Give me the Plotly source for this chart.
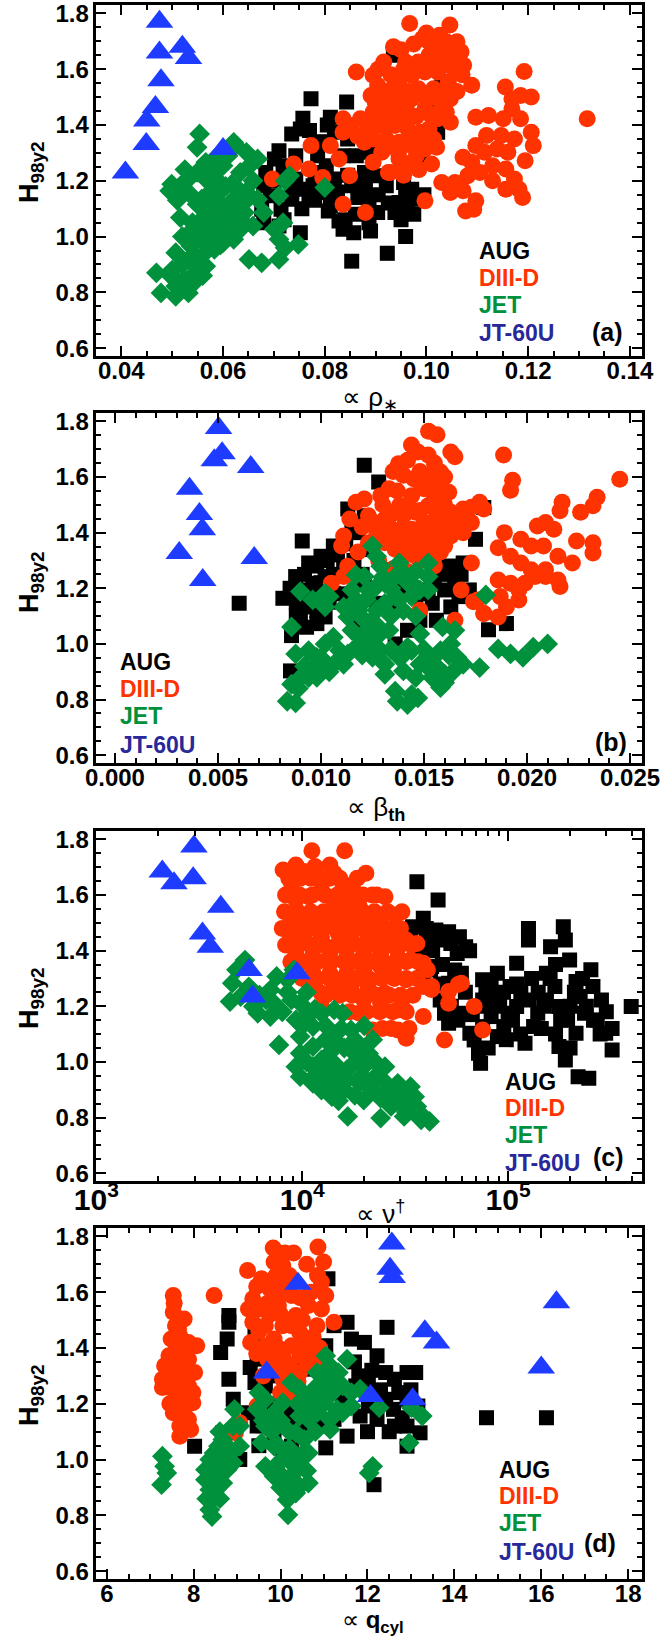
import plotly.graph_objects as go

# ---------------- data ----------------
# Panel (a): x = rho_*
A_AUG_x = [0.0773,0.0843,0.0935,0.0757,0.0811,0.0735,0.0752,0.0710,0.0701,0.0684,0.0680,0.0693,0.0676,0.0680,0.0714,0.0735,0.0752,0.0743,0.0769,0.0777,0.0803,0.0819,0.0811,0.0807,0.0828,0.0836,0.0857,0.0752,0.0853,0.0923,0.0959,0.0887,0.0904,0.0887,0.0870,0.0853,0.0878,0.0862,0.0836,0.0845,0.0887,0.0946,0.0938,0.0959,0.0971,0.0984,0.0963,0.0955,0.0992,0.1022,0.1022,0.1030,0.1009,0.0904,0.0921,0.0803,0.0786,0.0718,0.0743,0.0710,0.0781,0.0819,0.0803,
           0.0720,0.0735,0.0755,0.0780,0.0795,0.0825,0.0845,0.0865,0.0880,0.0860,0.0840,0.0890,0.0905,0.0925,0.0950,0.0975,0.0995,0.0790,0.0770,0.0805,0.0700,0.0720]
A_AUG_y = [1.494,1.482,1.650,1.424,1.428,1.368,1.386,1.308,1.278,1.230,1.182,1.146,1.098,1.050,1.098,1.134,1.170,1.206,1.134,1.182,1.158,1.206,1.110,1.092,1.056,1.026,1.014,1.014,0.912,0.940,1.000,1.050,1.086,1.134,1.170,1.182,1.230,1.290,1.290,1.350,1.302,1.122,1.086,1.158,1.170,1.134,1.110,1.194,1.278,1.374,1.458,1.542,1.494,1.218,1.182,1.254,1.290,1.254,1.290,1.038,1.230,1.374,1.338,
           1.240,1.160,1.100,1.130,1.190,1.160,1.220,1.140,1.180,1.080,1.060,1.020,1.150,1.120,1.060,1.080,1.150,1.340,1.380,1.400,1.200,1.060]

A_D3D_x = [0.0697,0.0739,0.0773,0.0769,0.0796,0.0828,0.0836,0.0849,0.0880,0.0811,0.0836,0.0862,0.0895,0.0925,0.0997,
           0.0967,0.1046,0.0992,0.1014,0.1039,0.1060,0.1068,0.1073,0.1056,0.1030,0.1005,0.0984,0.0959,0.0916,0.0895,0.0904,0.0891,0.0921,0.0946,0.0971,0.0997,0.1022,0.1043,0.1047,0.1039,0.1047,0.1022,0.0997,0.0971,0.0946,0.0921,0.0895,0.0870,0.0853,0.0836,0.0887,0.0912,0.0938,0.0963,0.0988,0.1014,0.0997,0.0971,0.0946,0.0921,0.0895,0.0878,0.0912,0.0946,0.0971,0.0929,0.0955,0.0980,0.1005,0.0963,0.0984,0.1014,0.1005,0.1026,0.0933,0.0899,
           0.0905,0.0930,0.0955,0.0980,0.1005,0.1030,0.1055,0.0915,0.0940,0.0965,0.0990,0.1015,0.1040,0.0905,0.0930,0.0955,0.0980,0.1005,0.1030,0.0920,0.0945,0.0970,0.0995,0.1020,0.0950,0.0975,0.1000,0.1050,0.1070,0.1060,0.0935,0.0885,0.0865,0.0955,0.0985,0.1010,
           0.1192,0.1089,0.1155,0.1168,0.1206,0.1185,0.1168,0.1185,0.1097,0.1122,0.1151,0.1206,0.1210,0.1173,0.1147,0.1118,0.1097,0.1072,0.1089,0.1114,0.1139,0.1160,0.1194,0.1130,0.1105,0.1156,0.1173,0.1182,0.1189,0.1156,0.1130,0.1081,0.1056,0.1030,0.1047,0.1072,0.1097,0.1077,0.1093,
           0.1316]
A_D3D_y = [1.206,1.260,1.326,1.242,1.212,1.278,1.116,1.218,1.086,1.326,1.374,1.590,1.266,1.230,1.128,
           1.764,1.758,1.710,1.686,1.698,1.698,1.662,1.614,1.638,1.650,1.650,1.626,1.626,1.626,1.578,1.542,1.506,1.494,1.554,1.578,1.590,1.590,1.554,1.494,1.446,1.410,1.422,1.458,1.494,1.470,1.446,1.446,1.422,1.398,1.422,1.386,1.398,1.398,1.386,1.374,1.350,1.314,1.326,1.338,1.350,1.350,1.338,1.302,1.278,1.266,1.230,1.242,1.290,1.386,1.446,1.530,1.530,1.698,1.722,1.530,1.482,
           1.600,1.580,1.600,1.600,1.610,1.610,1.600,1.520,1.510,1.520,1.510,1.500,1.520,1.420,1.440,1.420,1.430,1.440,1.470,1.320,1.300,1.350,1.340,1.320,1.670,1.690,1.730,1.660,1.580,1.520,1.680,1.400,1.360,1.220,1.240,1.260,
           1.592,1.542,1.536,1.494,1.500,1.506,1.458,1.422,1.428,1.434,1.422,1.374,1.326,1.350,1.362,1.362,1.326,1.284,1.266,1.302,1.314,1.302,1.272,1.254,1.230,1.242,1.206,1.170,1.140,1.170,1.200,1.218,1.194,1.194,1.158,1.164,1.128,1.092,1.098,
           1.422]

A_JET_x = [0.0554,0.0549,0.0499,0.0495,0.0516,0.0532,0.0549,0.0566,0.0583,0.0600,0.0625,0.0646,0.0668,0.0659,0.0634,0.0617,0.0592,0.0558,0.0532,0.0516,0.0549,0.0575,0.0600,0.0621,0.0642,0.0642,0.0668,0.0680,0.0659,0.0634,0.0608,0.0583,0.0558,0.0537,0.0507,0.0532,0.0558,0.0583,0.0600,0.0621,0.0566,0.0545,0.0524,0.0507,0.0532,0.0507,0.0478,0.0469,0.0495,0.0587,0.0651,0.0676,0.0710,0.0722,0.0748,0.0710,0.0701,0.0718,0.0710,0.0722,0.0731,0.0800,0.0621,0.0583,0.0566,0.0592,0.0617,0.0575,0.0608,0.0634,0.0583,0.0558,0.0541,
           0.0560,0.0575,0.0590,0.0605,0.0540,0.0565,0.0590,0.0615,0.0520,0.0545,0.0570,0.0595,0.0520,0.0550,0.0500,0.0510,0.0540,0.0560,0.0630,0.0650,0.0525,0.0510,0.0580,0.0645,0.0610]
A_JET_y = [1.368,1.320,1.188,1.164,1.182,1.206,1.230,1.266,1.278,1.254,1.326,1.302,1.278,1.200,1.230,1.188,1.158,1.134,1.158,1.068,1.116,1.086,1.110,1.134,1.122,1.086,1.134,1.086,1.038,1.026,1.014,1.014,0.990,0.966,0.942,0.918,0.930,0.954,0.978,0.990,0.894,0.870,0.846,0.822,0.798,0.786,0.798,0.870,0.864,0.990,0.918,0.906,0.918,0.960,0.972,0.990,1.026,1.050,1.146,1.200,1.218,1.176,1.338,1.182,1.206,1.074,1.074,1.038,1.050,1.062,1.122,1.062,1.026,
           1.100,1.160,1.200,1.180,1.050,1.040,1.040,1.100,1.000,0.990,0.970,0.970,0.900,0.920,0.880,0.840,0.830,0.860,1.170,1.250,1.240,1.130,1.240,1.160,1.290]

A_JT_x = [0.0475,0.0475,0.0520,0.0532,0.0478,0.0467,0.0450,0.0449,0.0408,0.0600]
A_JT_y = [1.770,1.660,1.680,1.640,1.560,1.464,1.416,1.332,1.230,1.314]

# Panel (b): x = beta_th
B_AUG_x = [0.00603,0.0121,0.0128,0.00909,0.00852,0.00857,0.01813,0.0190,0.0175,0.0179,0.00815,0.00877,0.0094,0.0100,0.0106,0.0090,0.0096,0.0102,0.0094,0.0102,0.0090,0.0111,0.0113,0.0115,0.0121,0.0125,0.0136,0.0142,0.0148,0.0154,0.0160,0.0165,0.0167,0.0163,0.0169,0.0152,0.0146,0.0140,0.0172,0.0156,0.0131,0.0121,0.0127,0.0119,0.0125,0.0136,0.0106,0.0098,
           0.0085,0.0088,0.0092,0.0095,0.0098,0.0100,0.0103,0.0106,0.0108,0.0088,0.0093,0.0098,0.0104,0.0110,0.0112,0.0118,0.0116,0.0120,0.0158,0.0162,0.0165,0.0155,0.0150,0.0168]
B_AUG_y = [1.146,1.642,1.582,1.370,0.903,1.030,1.051,1.073,1.376,1.490,1.164,1.242,1.291,1.315,1.352,1.194,1.218,1.242,1.133,1.097,1.097,1.279,1.485,1.412,1.461,1.339,1.133,1.049,1.085,1.146,1.194,1.242,1.170,1.133,1.291,1.194,1.170,1.194,1.194,1.085,1.267,1.218,1.146,1.085,1.000,1.000,1.182,1.073,
           1.200,1.150,1.250,1.180,1.280,1.220,1.300,1.250,1.320,1.100,1.060,1.120,1.150,1.180,1.360,1.400,1.300,1.250,1.250,1.280,1.200,1.220,1.180,1.250]

B_D3D_x = [0.01522,0.01563,0.01439,0.0147,0.0152,0.0163,0.0165,0.0158,0.0153,0.0145,0.01376,0.0140,0.0133,0.0129,0.0121,0.0117,0.0114,0.0111,0.0110,0.0123,0.0127,0.0131,0.0138,0.0144,0.0150,0.0156,0.0162,0.0158,0.0152,0.0146,0.0140,0.0133,0.0127,0.0123,0.0131,0.0138,0.0144,0.0150,0.0156,0.0163,0.0169,0.0173,0.0177,0.0179,0.0173,0.0169,0.0163,0.0156,0.0150,0.0144,0.0140,0.0146,0.0152,0.0160,0.0165,0.0173,0.0168,0.0148,0.0105,0.0111,0.0113,0.0165,0.0176,0.0179,0.0128,0.0135,0.0142,0.0155,0.0118,
           0.0135,0.0142,0.0148,0.0155,0.0160,0.0137,0.0148,0.0155,0.0160,0.0135,0.0142,0.0148,0.0154,0.0160,0.0134,0.0140,0.0147,0.0153,0.0158,0.0136,0.0143,0.0150,0.0166,0.0170,0.0148,0.0153,0.0158,0.0125,0.0120,0.0130,
           0.01886,0.0193,0.0192,0.0245,0.0234,0.0232,0.0226,0.0217,0.0216,0.0209,0.0205,0.0213,0.0224,0.0232,0.0232,0.0222,0.0215,0.0208,0.0202,0.0197,0.0189,0.0186,0.0192,0.0197,0.0202,0.0209,0.0215,0.0216,0.0209,0.0204,0.0199,0.0196,0.0192,0.0186,0.0187,0.0190,0.0196,0.0186,0.0179,0.0174]
B_D3D_y = [1.764,1.752,1.715,1.690,1.679,1.690,1.673,1.618,1.606,1.594,1.648,1.606,1.558,1.533,1.521,1.509,1.449,1.388,1.352,1.461,1.412,1.449,1.497,1.533,1.558,1.570,1.545,1.509,1.497,1.473,1.461,1.424,1.388,1.364,1.364,1.388,1.412,1.436,1.461,1.473,1.485,1.491,1.509,1.485,1.436,1.400,1.388,1.376,1.364,1.339,1.315,1.315,1.327,1.352,1.412,1.291,1.194,1.121,1.218,1.242,1.279,1.085,1.158,1.109,1.300,1.270,1.260,1.280,1.330,
           1.620,1.660,1.620,1.650,1.600,1.550,1.580,1.530,1.500,1.470,1.500,1.480,1.420,1.440,1.400,1.420,1.400,1.390,1.410,1.340,1.360,1.350,1.440,1.460,1.300,1.310,1.330,1.440,1.420,1.500,
           1.679,1.588,1.552,1.592,1.527,1.497,1.473,1.509,1.479,1.436,1.424,1.412,1.370,1.364,1.327,1.291,1.315,1.352,1.352,1.376,1.400,1.346,1.315,1.291,1.267,1.267,1.230,1.206,1.242,1.242,1.218,1.194,1.218,1.230,1.170,1.133,1.158,1.097,1.109,1.152]

B_JET_x = [0.0090,0.0096,0.0102,0.0102,0.0104,0.00857,0.00877,0.0094,0.0098,0.0102,0.0106,0.0109,0.0102,0.0096,0.0090,0.00857,0.0094,0.00836,0.00877,0.0111,0.0113,0.0117,0.0121,0.0115,0.0113,0.0111,0.0117,0.0115,0.0117,0.0121,0.0125,0.0127,0.0129,0.0123,0.0131,0.0136,0.0140,0.0144,0.0148,0.0152,0.0152,0.0144,0.0136,0.0131,0.0127,0.0121,0.0123,0.0119,0.0127,0.0133,0.0125,0.0129,0.0131,0.0138,0.0144,0.0148,0.0152,0.0158,0.0163,0.0165,0.0159,0.0166,0.0169,0.0160,0.0154,0.0158,0.0146,0.0140,0.0136,0.0137,0.0142,0.0144,0.0147,0.0131,0.0177,0.0180,0.0186,0.0192,0.0198,0.0203,0.0210,0.0146,0.0138,0.0152,0.0148,0.0142,
           0.0118,0.0122,0.0126,0.0130,0.0134,0.0138,0.0142,0.0124,0.0128,0.0134,0.0140,0.0146,0.0120,0.0126,0.0134,0.0140,0.0150,0.0156,0.0162,0.0164,0.0160,0.0154,0.0100,0.0104,0.0108,0.0098,0.0092,0.0089]
B_JET_y = [1.188,1.158,1.182,1.133,1.170,1.061,0.964,0.976,0.952,1.000,1.024,0.976,0.915,0.915,0.879,0.855,0.879,0.794,0.788,0.927,0.964,0.988,1.000,1.049,1.097,1.133,1.158,1.194,1.248,1.242,1.352,1.315,1.279,1.194,1.218,1.242,1.255,1.218,1.194,1.242,1.194,1.170,1.170,1.146,1.121,1.085,1.049,1.024,1.024,1.049,0.952,0.976,0.927,0.952,0.976,0.927,0.952,0.976,1.000,1.049,1.061,0.952,0.927,0.891,0.879,0.843,0.879,0.903,0.830,0.794,0.782,0.818,0.806,0.891,0.915,1.176,0.982,0.964,0.952,0.988,1.000,1.260,1.291,1.291,1.037,0.988,
           1.120,1.160,1.200,1.240,1.200,1.160,1.220,1.080,1.060,1.100,1.120,1.100,0.960,0.990,0.980,0.960,0.980,0.920,0.960,0.900,0.860,0.900,0.950,0.900,0.940,0.880,0.920,0.840]

B_JT_x = [0.00503,0.00520,0.00482,0.00659,0.00362,0.00410,0.00424,0.00312,0.00676,0.00426]
B_JT_y = [1.776,1.685,1.660,1.636,1.558,1.467,1.412,1.327,1.309,1.230]

# Panel (c): x = nu_dagger (log axis)
C_AUG_x = [36060,45700,34360,38730,44570,51400,52700,46800,40550,36900,56600,62200,59300,51400,46800,49100,51400,59300,65200,68400,75200,82700,75200,75200,88700,82700,91000,100000,95300,88700,71800,73500,110000,125600,125600,115300,110000,126800,120800,153500,160800,185400,189700,199000,168700,153500,176600,194500,176600,189700,213800,235000,252400,258300,284100,271000,297900,320100,218800,246600,396300,223900,213800,139300,133000,102300,38730,42500,33570,
           40000,43000,48000,55000,42000,47000,53000,57000,62000,67000,72000,78000,85000,95000,105000,115000,98000,80000,140000,150000,160000,170000,180000,200000,210000,230000,240000,260000,280000,300000,320000,170000,200000,145000,130000,110000,65000,58000]
C_AUG_y = [1.648,1.582,1.486,1.516,1.474,1.468,1.426,1.438,1.426,1.378,1.390,1.414,1.319,1.283,1.223,1.175,1.139,1.175,1.103,1.079,1.127,1.163,1.223,1.295,1.319,1.271,1.223,1.175,1.127,1.091,1.031,0.995,1.355,1.480,1.438,1.247,1.199,1.223,1.067,1.319,1.414,1.486,1.438,1.366,1.271,1.223,1.199,1.151,1.055,1.007,1.103,1.175,1.331,1.271,1.223,1.151,1.103,1.043,0.947,0.941,1.199,1.235,1.289,1.175,1.127,1.271,1.307,1.343,1.450,
           1.480,1.400,1.350,1.330,1.330,1.280,1.200,1.150,1.250,1.170,1.200,1.250,1.200,1.250,1.150,1.100,1.080,1.050,1.250,1.200,1.300,1.350,1.150,1.200,1.250,1.300,1.200,1.150,1.100,1.180,1.120,1.100,1.050,1.120,1.300,1.280,1.400,1.450]

C_D3D_x = [11140,16070,8070,9310,10240,8870,11530,13620,14290,15710,17670,20380,21880,25240,9310,10740,12390,14290,16450,18970,8870,10240,11800,13620,15710,18110,20890,24040,28440,8870,10240,12390,14960,17260,20890,24040,27730,31990,36060,9310,11270,13620,16450,19890,24040,29110,33570,38730,40550,42560,38730,31990,27730,24040,19890,16450,13620,11270,11270,12390,14290,17260,20890,25240,30550,29110,24040,19890,18970,21880,29110,31990,38730,49100,75200,68400,59300,51400,51400,12390,42400,57200,
           8600,9800,11000,12300,13600,15200,18500,
           8300,9700,11200,12900,14800,17000,19700,23000,
           8200,9500,11000,12700,14700,16900,19600,22400,26000,30500,
           8000,9400,10900,12600,14500,16700,19300,22300,25800,30000,
           8300,9600,11100,12800,14800,17200,19800,22900,26500,30000,34000,
           8800,10200,11900,13800,16000,18500,21300,24700,28400,32000,36500,
           10000,11800,13600,15800,18300,21000,24300,28000,32000,36000,
           13000,15200,17500,20000,23000,26500,30000,34500,
           17000,20500,23800,27500,32000,
           24500,27000,33000]
C_D3D_y = [1.759,1.759,1.690,1.708,1.684,1.642,1.702,1.708,1.678,1.642,1.618,1.678,1.600,1.594,1.582,1.594,1.618,1.570,1.582,1.558,1.510,1.522,1.510,1.522,1.510,1.498,1.522,1.516,1.528,1.450,1.438,1.450,1.462,1.438,1.450,1.462,1.450,1.438,1.426,1.390,1.402,1.390,1.378,1.390,1.390,1.378,1.366,1.355,1.331,1.271,1.271,1.295,1.331,1.343,1.331,1.319,1.319,1.319,1.271,1.247,1.271,1.271,1.271,1.247,1.223,1.187,1.211,1.223,1.175,1.115,1.115,1.085,1.163,1.079,1.115,1.199,1.283,1.253,1.211,1.199,1.260,1.278,
           1.66,1.66,1.66,1.66,1.66,1.66,1.66,
           1.60,1.60,1.60,1.60,1.60,1.60,1.60,1.60,
           1.54,1.54,1.54,1.54,1.54,1.54,1.54,1.54,1.54,1.54,
           1.48,1.48,1.48,1.48,1.48,1.48,1.48,1.48,1.48,1.48,
           1.42,1.42,1.42,1.42,1.42,1.42,1.42,1.42,1.42,1.42,1.42,
           1.36,1.36,1.36,1.36,1.36,1.36,1.36,1.36,1.36,1.36,1.36,
           1.30,1.30,1.30,1.30,1.30,1.30,1.30,1.30,1.30,1.30,
           1.24,1.24,1.24,1.24,1.24,1.24,1.24,1.24,
           1.18,1.18,1.18,1.18,1.18,
           1.12,1.12,1.12]

C_JET_x = [5270,4790,4570,4460,5020,5790,6680,7000,7510,8470,9100,7000,6080,7710,8870,9770,10740,9310,11270,12390,14290,15710,17260,9770,9770,11270,12970,14960,17260,18970,19890,9310,9770,11270,12390,14290,16450,19890,22960,25240,21880,18970,16450,14290,12390,11270,13930,19890,21880,29110,33570,29110,30550,35160,34360,31260,37800,41560,24040,16630,
           5500,6200,7300,8000,8500,10000,10500,11500,13000,14000,15500,16000,18000,13500,12000,13000,15000,17500,21000,23000,25000,27000,10500,11500,13500,16000,18000,15000,24000,27000,32000,36000,33000,38000,20000,22000,19500]
C_JET_y = [1.366,1.331,1.283,1.217,1.235,1.199,1.223,1.259,1.307,1.295,1.331,1.163,1.175,1.061,1.223,1.211,1.175,1.151,1.127,1.175,1.187,1.175,1.115,1.091,1.031,1.055,1.079,1.067,1.043,1.055,1.019,0.983,0.947,0.983,1.007,0.995,0.971,0.983,0.995,0.983,0.935,0.923,0.935,0.911,0.899,0.923,0.875,0.863,0.899,0.923,0.911,0.887,0.851,0.875,0.827,0.804,0.792,0.786,0.798,0.804,
           1.27,1.24,1.21,1.18,1.25,1.13,1.25,1.19,1.13,1.10,1.12,1.05,1.08,1.03,0.96,0.93,0.95,0.99,1.03,0.95,0.93,0.90,1.00,0.95,0.97,0.90,0.88,0.86,0.87,0.84,0.82,0.84,0.87,0.81,1.13,1.08,0.95]

C_JT_x = [2977,2090,2382,2952,4020,3276,3573,5518,5742,9440]
C_JT_y = [1.774,1.684,1.642,1.660,1.558,1.462,1.414,1.330,1.235,1.319]

# Panel (d): x = q_cyl
D_AUG_x = [14.74,16.12,12.45,11.09,8.81,8.81,8.77,8.62,8.81,8.91,8.67,8.02,9.06,12.15,9.41,9.46,9.41,9.65,9.26,9.46,9.85,10.05,10.25,10.35,10.54,10.44,10.84,10.94,11.04,11.23,11.04,11.23,11.53,11.63,11.93,12.22,12.42,12.62,12.91,13.11,12.72,12.42,12.02,11.83,12.22,12.62,12.91,13.21,12.91,11.53,11.43,11.73,12.02,12.91,13.16,9.65,9.85,10.05,
           9.60,9.90,10.20,10.50,11.80,12.10,12.30,12.60,12.80,13.00,12.50,12.00,11.70,9.30,9.50]
D_AUG_y = [1.150,1.150,1.474,1.648,1.516,1.492,1.432,1.384,1.288,1.216,1.096,1.048,1.000,0.910,1.444,1.360,1.276,1.264,1.168,1.120,1.096,1.012,1.048,1.168,1.324,1.216,1.192,1.120,1.042,1.144,1.408,1.480,1.492,1.432,1.420,1.372,1.312,1.288,1.312,1.312,1.240,1.216,1.192,1.156,1.144,1.120,1.120,1.096,1.048,1.084,1.216,1.264,1.276,1.216,1.192,1.192,1.300,1.168,
           1.240,1.200,1.150,1.120,1.300,1.320,1.250,1.180,1.150,1.250,1.100,1.100,1.350,1.330,1.050]

D_D3D_x = [7.53,7.53,7.58,7.68,7.78,7.88,8.07,7.43,7.33,7.28,7.28,7.48,7.68,7.88,8.02,7.88,7.98,7.78,7.58,7.98,7.78,7.53,7.88,7.68,7.93,7.68,7.58,7.73,7.48,
           7.45,7.60,7.70,7.85,7.60,7.55,7.65,7.70,7.80,7.90,7.45,7.40,7.80,
           8.47,9.24,9.83,10.86,10.99,9.85,10.05,9.56,9.36,9.26,9.36,9.31,9.56,9.75,10.05,10.25,9.95,9.65,9.85,10.05,10.35,10.44,10.25,10.05,9.85,10.05,10.44,10.64,10.84,10.94,11.04,10.94,10.64,11.23,10.64,10.44,10.25,11.04,9.06,8.96,9.46,9.65,
           9.45,9.70,9.95,10.20,10.45,10.70,10.85,9.50,9.75,10.00,10.25,10.50,10.75,9.45,9.70,9.95,10.20,10.45,10.70,10.90,10.15,10.40,10.00,10.30,10.10,9.90,10.60,10.95,9.60]
D_D3D_y = [1.588,1.528,1.480,1.444,1.504,1.420,1.408,1.372,1.336,1.288,1.258,1.312,1.336,1.360,1.312,1.264,1.240,1.228,1.216,1.204,1.180,1.168,1.144,1.120,1.108,1.084,1.252,1.396,1.432,
           1.360,1.300,1.240,1.300,1.400,1.560,1.470,1.180,1.120,1.210,1.200,1.260,1.360,
           1.588,1.678,1.758,1.762,1.708,1.708,1.696,1.648,1.576,1.540,1.492,1.420,1.540,1.612,1.636,1.588,1.552,1.480,1.432,1.480,1.516,1.456,1.408,1.372,1.336,1.288,1.372,1.432,1.480,1.540,1.588,1.636,1.552,1.492,1.336,1.312,1.228,1.240,1.132,1.096,1.192,1.408,
           1.620,1.560,1.600,1.660,1.580,1.600,1.660,1.460,1.520,1.520,1.480,1.500,1.440,1.380,1.360,1.400,1.340,1.400,1.380,1.400,1.300,1.280,1.240,1.740,1.740,1.660,1.700,1.360,1.300]

D_JET_x = [7.28,7.33,7.38,7.26,
           8.42,8.37,8.42,8.37,8.27,8.27,8.37,8.47,8.57,8.67,8.77,8.86,9.06,8.91,8.67,8.57,8.57,8.47,8.77,8.47,8.67,9.06,8.94,
           9.46,9.65,9.85,10.05,10.25,10.44,10.64,10.84,11.04,11.14,11.04,11.33,11.53,11.43,11.63,11.83,11.63,11.43,11.14,11.14,10.84,10.64,10.44,10.35,10.54,10.64,10.44,10.25,10.05,9.85,9.65,9.85,10.05,10.25,10.44,10.64,10.35,10.15,10.17,9.56,9.65,12.12,12.04,12.27,12.96,13.26,13.01,10.84,
           9.80,10.00,10.20,10.40,10.60,10.80,11.00,11.20,11.30,9.95,10.20,10.50,10.30,10.60,10.00,10.20,9.90,10.80,11.00,11.30,9.60,9.50,8.60,8.50,8.80,8.30,8.40,8.60,8.90]
D_JET_y = [1.012,0.976,0.952,0.910,
           0.796,0.820,0.856,0.892,0.928,0.964,1.000,1.024,1.048,1.072,1.048,1.024,1.048,0.988,1.000,0.976,0.952,0.928,0.964,0.880,0.916,1.120,1.180,
           1.180,1.216,1.168,1.204,1.276,1.252,1.228,1.264,1.300,1.336,1.372,1.312,1.360,1.264,1.240,1.252,1.192,1.168,1.144,1.108,1.168,1.144,1.156,1.096,1.072,1.024,1.000,0.988,1.000,1.048,0.976,0.940,0.940,0.916,0.904,0.916,0.880,0.856,0.802,1.060,1.120,0.976,0.952,1.186,1.060,1.156,1.186,1.312,
           1.100,1.140,1.100,1.200,1.180,1.220,1.200,1.240,1.180,1.050,1.040,1.020,0.950,0.960,0.900,0.880,0.980,1.100,1.260,1.280,1.140,1.240,0.860,0.970,1.000,0.860,0.960,1.100,1.120]

D_JT_x = [12.56,12.52,12.57,10.40,16.35,13.32,13.59,16.00,9.68,12.07,13.04]
D_JT_y = [1.774,1.684,1.654,1.630,1.564,1.460,1.420,1.330,1.312,1.228,1.216]

# ---------------- style ----------------
FONT = "Liberation Sans Narrow, Arial Narrow, Liberation Sans, Arial, sans-serif"
C_AUG, C_D3D, C_JET, C_JT, C_JT_TXT = "#000000", "#FF3300", "#00913C", "#1E3CFF", "#28289A"
W, H = 664, 1638

def px(x):
    return x / W

def py(y):
    return 1 - y / H

X_DOM = [px(96.4), px(641.6)]
Y_DOMS = [(5, 356), (413, 763), (831, 1181), (1228, 1579)]

fig = go.Figure()

panels = [
    (A_AUG_x, A_AUG_y, A_D3D_x, A_D3D_y, A_JET_x, A_JET_y, A_JT_x, A_JT_y),
    (B_AUG_x, B_AUG_y, B_D3D_x, B_D3D_y, B_JET_x, B_JET_y, B_JT_x, B_JT_y),
    (C_AUG_x, C_AUG_y, C_D3D_x, C_D3D_y, C_JET_x, C_JET_y, C_JT_x, C_JT_y),
    (D_AUG_x, D_AUG_y, D_D3D_x, D_D3D_y, D_JET_x, D_JET_y, D_JT_x, D_JT_y),
]
styles = [("square", 15, C_AUG), ("circle", 17, C_D3D), ("diamond", 16, C_JET), ("triangle-up", 24, C_JT)]

for i, p in enumerate(panels):
    suf = "" if i == 0 else str(i + 1)
    for k, (sym, size, col) in enumerate(styles):
        xs, ys = p[2 * k], p[2 * k + 1]
        n = min(len(xs), len(ys))
        fig.add_trace(go.Scatter(x=xs[:n], y=ys[:n], mode="markers", xaxis="x" + suf, yaxis="y" + suf,
                                 marker=dict(symbol=sym, size=size, color=col, line=dict(width=0)),
                                 showlegend=False, hoverinfo="skip"))

tickfont = dict(family=FONT, size=24, color="black", weight="bold")
common = dict(showline=True, linewidth=2.5, linecolor="black", mirror="ticks", ticks="inside",
              ticklen=10, tickwidth=2, tickcolor="black", showgrid=False, zeroline=False,
              automargin=False, ticklabeloverflow="allow", tickfont=tickfont)

def minor(dtick=None, tick0=None):
    m = dict(ticks="inside", ticklen=5, tickwidth=1.5, tickcolor="black", showgrid=False)
    if dtick is not None:
        m["dtick"] = dtick
    if tick0 is not None:
        m["tick0"] = tick0
    return m

xcfg = [
    dict(range=[0.0351, 0.1423], tick0=0.04, dtick=0.02, tickformat=".2f", minor=minor(0.005, 0.04)),
    dict(range=[-0.0009, 0.02556], tick0=0.0, dtick=0.005, tickformat=".3f", minor=minor(0.001, 0.0)),
    dict(type="log", range=[3.0, 5.6485], dtick=1, exponentformat="power", showexponent="all", minor=minor("D1")),
    dict(range=[5.76, 18.31], tick0=6, dtick=2, minor=minor(0.5, 6)),
]
layout = dict(width=W, height=H, autosize=False,
              margin=dict(l=0, r=0, t=0, b=0, pad=0, autoexpand=False),
              paper_bgcolor="white", plot_bgcolor="white", showlegend=False)
for i in range(4):
    suf = "" if i == 0 else str(i + 1)
    top, bot = Y_DOMS[i]
    layout["xaxis" + suf] = dict(domain=X_DOM, anchor="y" + suf, ticklabelstandoff=-9, **common, **xcfg[i])
    layout["yaxis" + suf] = dict(domain=[py(bot), py(top)], anchor="x" + suf, range=[0.572, 1.830],
                                 tick0=0.6, dtick=0.2, tickformat=".1f", minor=minor(0.05, 0.6), **common)
fig.update_layout(**layout)

ann = []
def text(x, y, s, size=25, color="black", xanchor="left", angle=0):
    ann.append(dict(x=px(x), y=py(y), xref="paper", yref="paper", text=s, showarrow=False,
                    xanchor=xanchor, yanchor="middle", textangle=angle,
                    font=dict(family=FONT, size=size, color=color)))

# y titles
for yc in [172, 582, 998, 1395]:
    text(31, yc, "<b>H<sub>98y2</sub></b>", size=27, xanchor="center", angle=-90)

# x titles
text(370, 398, "∝ ρ<sub>∗</sub>", size=26, xanchor="center")
text(376, 808, "∝ β<sub><b>th</b></sub>", size=26, xanchor="center")
text(380, 1212, "∝ ν<sup>†</sup>", size=26, xanchor="center")
text(373, 1621, "∝ <b>q<sub>cyl</sub></b>", size=24, xanchor="center")

# legends
legends = [(477, [251, 278, 305, 333]), (118, [662, 689, 716, 745]),
           (503, [1082, 1108, 1135, 1163]), (497, [1470, 1496, 1523, 1552])]
names = [("AUG", C_AUG), ("DIII-D", C_D3D), ("JET", C_JET), ("JT-60U", C_JT_TXT)]
for lx, ys in legends:
    for (nm, col), yy in zip(names, ys):
        text(lx, yy, "<b>" + nm + "</b>", size=23, color=col)

# panel labels
for lab, x, y in [("(a)", 607, 332), ("(b)", 611, 742), ("(c)", 608, 1157), ("(d)", 600, 1543)]:
    text(x, y, "<b>" + lab + "</b>", size=25, xanchor="center")

fig.update_layout(annotations=ann)
fig.write_html("out.html", config={"displayModeBar": False, "responsive": False},
               post_script="document.body.style.margin='0px';document.body.style.padding='0px';"
                           "document.documentElement.style.overflow='hidden';document.body.style.overflow='hidden';")
